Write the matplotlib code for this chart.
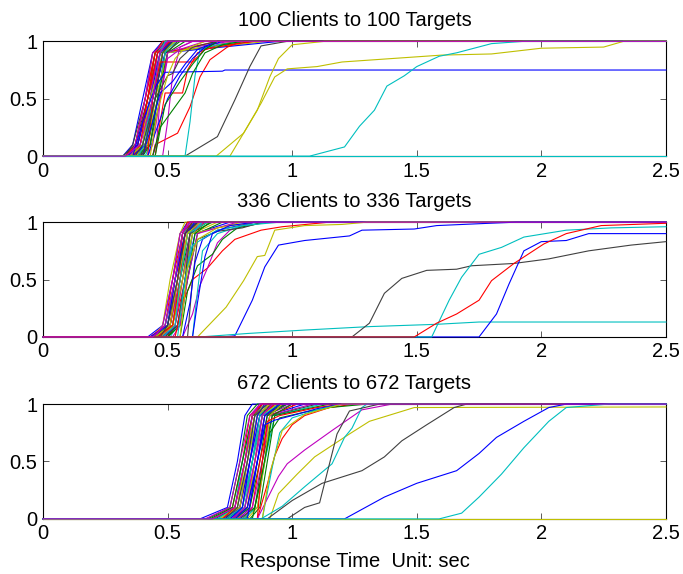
import matplotlib
matplotlib.use('Agg')
from matplotlib import pyplot as plt

plt.rcParams['font.family'] = ['Liberation Sans', 'DejaVu Sans']

# old MATLAB colour order
b = (0, 0, 1)
g = (0, 0.5, 0)
r = (1, 0, 0)
c = (0, 0.75, 0.75)
m = (0.75, 0, 0.75)
y = (0.75, 0.75, 0)
k = (0.25, 0.25, 0.25)
color_order = [b, g, r, c, m, y, k]

titles = ['100 Clients to 100 Targets', '336 Clients to 336 Targets', '672 Clients to 672 Targets']
x_label = 'Response Time  Unit: sec'
x_ticks = [0, 0.5, 1, 1.5, 2, 2.5]
y_ticks = [0, 0.5, 1]

# CDF levels used for the bundle curves
levels = [0, 0.1, 0.5, 0.9, 1.0]

# bundle curves: time (s) at which each client reaches levels 0 / .1 / .5 / .9 / 1
bundle_100 = [
    (0.32, 0.36, 0.40, 0.44, 0.48), (0.34, 0.38, 0.42, 0.46, 0.50), (0.33, 0.37, 0.41, 0.45, 0.52),
    (0.36, 0.39, 0.43, 0.46, 0.49), (0.35, 0.38, 0.42, 0.47, 0.75), (0.37, 0.40, 0.44, 0.47, 0.51),
    (0.33, 0.36, 0.41, 0.44, 0.50), (0.38, 0.41, 0.45, 0.48, 0.53), (0.36, 0.40, 0.43, 0.47, 0.85),
    (0.34, 0.37, 0.41, 0.45, 0.49), (0.39, 0.42, 0.45, 0.48, 0.52), (0.35, 0.39, 0.43, 0.46, 0.51),
    (0.37, 0.41, 0.44, 0.48, 0.90), (0.32, 0.37, 0.42, 0.46, 0.52), (0.38, 0.40, 0.44, 0.47, 0.50),
    (0.36, 0.38, 0.42, 0.45, 0.49), (0.40, 0.42, 0.46, 0.49, 0.70), (0.35, 0.40, 0.44, 0.48, 0.54),
    (0.37, 0.39, 0.43, 0.46, 0.50), (0.34, 0.39, 0.43, 0.47, 0.53), (0.39, 0.41, 0.45, 0.48, 0.51),
    (0.36, 0.41, 0.44, 0.49, 0.95), (0.38, 0.42, 0.46, 0.49, 0.55), (0.33, 0.38, 0.42, 0.45, 0.48),
    (0.41, 0.43, 0.46, 0.49, 0.52), (0.35, 0.37, 0.41, 0.44, 0.50), (0.37, 0.42, 0.45, 0.50, 0.80),
    (0.39, 0.43, 0.47, 0.50, 0.54), (0.34, 0.38, 0.43, 0.47, 0.52), (0.40, 0.43, 0.46, 0.50, 0.57),
    (0.36, 0.39, 0.42, 0.46, 0.51), (0.38, 0.41, 0.44, 0.47, 0.49), (0.42, 0.44, 0.47, 0.50, 0.60),
    (0.35, 0.40, 0.43, 0.48, 0.53), (0.37, 0.40, 0.45, 0.48, 0.52), (0.33, 0.39, 0.44, 0.47, 0.50),
]

# individual slower clients: (colour, [(time, cdf), ...])
others_100 = [
    (r, [(0.44, 0), (0.45, 0.1), (0.54, 0.2), (0.59, 0.43), (0.63, 0.69), (0.67, 0.84), (0.74, 0.95), (0.8, 1)]),
    (r, [(0.45, 0), (0.47, 0.3), (0.49, 0.55), (0.56, 0.55), (0.58, 0.75), (0.62, 0.9), (0.7, 0.97), (0.78, 1)]),
    (r, [(0.42, 0), (0.44, 0.5), (0.47, 0.82), (0.60, 0.82), (0.65, 0.93), (0.75, 0.97), (0.85, 1)]),
    (c, [(0.57, 0), (0.59, 0.3), (0.61, 0.7), (0.63, 0.93), (0.7, 0.97), (0.8, 1)]),
    (m, [(0.44, 0), (0.455, 0.1), (0.47, 0.5), (0.50, 0.85), (0.55, 0.93), (0.65, 1)]),
    (m, [(0.48, 0), (0.5, 0.3), (0.52, 0.7), (0.55, 0.95), (0.6, 1)]),
    (b, [(0.36, 0), (0.40, 0.3), (0.45, 0.6), (0.49, 0.73), (0.72, 0.74), (0.73, 0.75)]),
    (b, [(0.42, 0), (0.45, 0.2), (0.5, 0.5), (0.55, 0.7), (0.6, 0.85), (0.65, 0.95), (0.72, 1)]),
    (b, [(0.40, 0), (0.44, 0.3), (0.47, 0.55), (0.52, 0.65), (0.57, 0.8), (0.62, 0.93), (0.7, 1)]),
    (g, [(0.44, 0), (0.47, 0.25), (0.52, 0.4), (0.57, 0.55), (0.6, 0.72), (0.65, 0.9), (0.72, 0.97), (0.8, 1)]),
    (g, [(0.45, 0), (0.49, 0.45), (0.55, 0.65), (0.6, 0.8), (0.65, 0.93), (0.7, 1)]),
    (k, [(0.40, 0), (0.45, 0.5), (0.5, 0.7), (0.52, 0.72), (0.55, 0.85), (0.6, 0.95), (0.7, 1)]),
    (y, [(0.43, 0), (0.46, 0.4), (0.5, 0.7), (0.53, 0.85), (0.56, 0.92), (0.65, 1)]),
    (k, [(0.57, 0), (0.70, 0.17), (0.77, 0.49), (0.83, 0.78), (0.875, 0.96), (0.98, 1)]),
    (y, [(0.695, 0), (0.805, 0.2), (0.875, 0.46), (0.93, 0.69), (0.98, 0.76), (1.1, 0.78), (1.2, 0.82),
         (1.4, 0.85), (1.6, 0.88), (1.8, 0.89), (2.0, 0.94), (2.25, 0.95), (2.33, 1)]),
    (y, [(0.75, 0), (0.86, 0.4), (0.91, 0.69), (0.945, 0.85), (1.0, 0.97), (1.13, 1)]),
    (c, [(1.07, 0), (1.21, 0.08), (1.27, 0.26), (1.33, 0.4), (1.38, 0.61), (1.45, 0.7), (1.5, 0.78),
         (1.59, 0.87), (1.66, 0.9), (1.8, 0.98), (1.93, 1)]),
    (c, [(2.5, 0)]),
]

bundle_336 = [
    (0.42, 0.48, 0.52, 0.55, 0.58), (0.44, 0.49, 0.53, 0.56, 0.60), (0.43, 0.50, 0.54, 0.57, 0.62),
    (0.45, 0.50, 0.53, 0.56, 0.59), (0.46, 0.51, 0.55, 0.58, 0.65), (0.44, 0.48, 0.51, 0.55, 0.57),
    (0.47, 0.52, 0.55, 0.58, 0.61), (0.45, 0.49, 0.53, 0.57, 0.63), (0.48, 0.52, 0.56, 0.59, 0.66),
    (0.43, 0.49, 0.52, 0.56, 0.60), (0.46, 0.50, 0.54, 0.58, 0.64), (0.47, 0.51, 0.55, 0.57, 0.60),
    (0.49, 0.53, 0.56, 0.60, 0.70), (0.44, 0.50, 0.53, 0.56, 0.59), (0.48, 0.51, 0.54, 0.57, 0.62),
    (0.45, 0.52, 0.55, 0.59, 0.68), (0.50, 0.53, 0.57, 0.60, 0.65), (0.46, 0.49, 0.53, 0.56, 0.61),
    (0.47, 0.53, 0.56, 0.59, 0.63), (0.49, 0.52, 0.55, 0.58, 0.60), (0.44, 0.51, 0.54, 0.57, 0.62),
    (0.48, 0.54, 0.57, 0.61, 0.75), (0.50, 0.54, 0.58, 0.62, 0.72), (0.46, 0.51, 0.54, 0.56, 0.58),
    (0.51, 0.54, 0.57, 0.60, 0.64), (0.45, 0.48, 0.52, 0.55, 0.59), (0.47, 0.52, 0.56, 0.60, 0.80),
    (0.49, 0.54, 0.57, 0.59, 0.62), (0.43, 0.50, 0.53, 0.57, 0.61), (0.50, 0.55, 0.58, 0.61, 0.67),
    (0.46, 0.52, 0.55, 0.57, 0.60), (0.48, 0.53, 0.55, 0.58, 0.66), (0.52, 0.55, 0.58, 0.62, 0.78),
    (0.45, 0.51, 0.54, 0.58, 0.63), (0.47, 0.50, 0.54, 0.57, 0.60), (0.44, 0.49, 0.53, 0.56, 0.59),
]

others_336 = [
    (r, [(0.53, 0), (0.56, 0.3), (0.6, 0.5), (0.66, 0.6), (0.72, 0.75), (0.77, 0.85), (0.875, 0.93), (0.96, 0.96), (1.15, 1)]),
    (m, [(0.56, 0), (0.6, 0.2), (0.63, 0.45), (0.66, 0.6), (0.7, 0.82), (0.75, 0.93), (0.85, 1)]),
    (g, [(0.55, 0), (0.58, 0.4), (0.62, 0.62), (0.68, 0.72), (0.72, 0.85), (0.78, 0.95), (0.9, 1)]),
    (c, [(0.6, 0), (0.62, 0.4), (0.64, 0.75), (0.7, 0.9), (0.8, 0.97), (0.9, 1)]),
    (k, [(0.58, 0), (0.6, 0.5), (0.62, 0.85), (0.7, 0.92), (0.8, 0.95), (0.88, 1)]),
    (b, [(0.56, 0), (0.59, 0.3), (0.61, 0.65), (0.64, 0.85), (0.7, 0.93), (0.85, 1)]),
    (c, [(0.54, 0), (0.57, 0.5), (0.6, 0.8), (0.66, 0.88), (0.7, 0.93), (0.8, 0.97), (0.95, 1)]),
    (y, [(0.55, 0), (0.58, 0.6), (0.62, 0.85), (0.7, 0.95), (0.85, 1)]),
    (b, [(0.6, 0), (0.62, 0.3), (0.65, 0.7), (0.68, 0.9), (0.75, 0.97), (0.85, 1)]),
    (y, [(0.62, 0), (0.735, 0.26), (0.805, 0.49), (0.86, 0.70), (0.89, 0.71), (0.93, 0.93), (1.05, 0.97), (1.2, 0.98), (1.3, 1)]),
    (b, [(0.72, 0), (0.77, 0.01), (0.84, 0.32), (0.89, 0.61), (0.945, 0.8), (1.05, 0.84), (1.23, 0.88), (1.28, 0.93),
         (1.49, 0.94), (1.58, 0.97), (1.79, 0.99), (1.9, 1)]),
    (c, [(0.63, 0), (0.82, 0.03), (1.05, 0.06), (1.31, 0.09), (1.58, 0.11), (1.75, 0.13)]),
    (k, [(1.24, 0), (1.31, 0.12), (1.37, 0.38), (1.44, 0.51), (1.54, 0.58), (1.66, 0.59), (1.72, 0.62), (1.89, 0.64),
         (2.03, 0.68), (2.19, 0.75), (2.36, 0.8), (2.5, 0.83)]),
    (b, [(1.75, 0), (1.82, 0.2), (1.87, 0.46), (1.93, 0.75), (2.0, 0.83), (2.1, 0.84), (2.19, 0.9)]),
    (c, [(1.56, 0), (1.63, 0.32), (1.68, 0.52), (1.75, 0.72), (1.84, 0.78), (1.93, 0.87), (2.1, 0.93), (2.28, 0.95), (2.5, 0.96)]),
    (r, [(1.49, 0), (1.58, 0.12), (1.66, 0.2), (1.75, 0.32), (1.8, 0.49), (1.89, 0.64), (2.01, 0.81), (2.1, 0.9),
         (2.24, 0.97), (2.5, 0.99)]),
]

bundle_672 = [
    (0.63, 0.74, 0.78, 0.81, 0.84), (0.66, 0.75, 0.79, 0.82, 0.86), (0.68, 0.76, 0.80, 0.83, 0.88),
    (0.70, 0.77, 0.80, 0.84, 0.90), (0.65, 0.75, 0.79, 0.83, 0.87), (0.72, 0.78, 0.81, 0.84, 0.89),
    (0.69, 0.77, 0.81, 0.85, 0.92), (0.73, 0.79, 0.82, 0.85, 0.88), (0.67, 0.76, 0.80, 0.84, 0.95),
    (0.74, 0.79, 0.83, 0.86, 0.91), (0.70, 0.78, 0.82, 0.86, 0.94), (0.75, 0.80, 0.83, 0.87, 0.93),
    (0.71, 0.78, 0.81, 0.85, 0.89), (0.76, 0.81, 0.84, 0.87, 0.92), (0.72, 0.79, 0.83, 0.87, 0.98),
    (0.74, 0.80, 0.84, 0.88, 0.96), (0.77, 0.82, 0.85, 0.88, 0.93), (0.73, 0.80, 0.84, 0.87, 0.90),
    (0.75, 0.81, 0.85, 0.89, 1.00), (0.78, 0.82, 0.85, 0.88, 0.94), (0.76, 0.82, 0.86, 0.89, 0.97),
    (0.79, 0.83, 0.86, 0.90, 1.05), (0.77, 0.83, 0.87, 0.90, 0.98), (0.80, 0.84, 0.87, 0.91, 1.02),
    (0.74, 0.81, 0.84, 0.88, 0.95), (0.78, 0.84, 0.88, 0.91, 1.08), (0.71, 0.79, 0.82, 0.86, 0.91),
    (0.79, 0.85, 0.88, 0.92, 1.10), (0.75, 0.80, 0.83, 0.86, 0.89), (0.81, 0.85, 0.89, 0.92, 1.00),
    (0.72, 0.77, 0.81, 0.84, 0.88), (0.80, 0.86, 0.89, 0.93, 1.12), (0.76, 0.81, 0.85, 0.88, 0.92),
    (0.82, 0.86, 0.89, 0.91, 0.96), (0.73, 0.78, 0.82, 0.85, 0.90), (0.77, 0.82, 0.86, 0.89, 0.95),
    (0.83, 0.87, 0.90, 0.93, 1.15), (0.68, 0.77, 0.81, 0.84, 0.87),
]

others_672 = [
    (r, [(0.86, 0), (0.9, 0.3), (0.93, 0.55), (0.96, 0.7), (1.0, 0.82), (1.05, 0.9), (1.15, 0.97), (1.25, 1)]),
    (r, [(0.86, 0), (0.88, 0.5), (0.9, 0.85), (0.95, 0.9), (1.1, 0.97), (1.2, 1)]),
    (g, [(0.84, 0), (0.88, 0.4), (0.91, 0.75), (0.95, 0.88), (1.05, 0.93), (1.15, 0.97), (1.3, 1)]),
    (b, [(0.82, 0), (0.86, 0.5), (0.89, 0.82), (0.93, 0.86), (1.0, 0.9), (1.1, 0.96), (1.2, 1)]),
    (c, [(0.88, 0), (0.92, 0.45), (0.95, 0.75), (1.0, 0.88), (1.1, 0.95), (1.2, 1)]),
    (m, [(0.86, 0), (0.945, 0.37), (0.98, 0.48), (1.05, 0.6), (1.16, 0.77), (1.28, 0.95), (1.4, 1)]),
    (y, [(0.88, 0), (0.91, 0.4), (0.96, 0.77), (1.05, 0.91), (1.2, 1)]),
    (y, [(0.91, 0), (0.945, 0.22), (1.02, 0.39), (1.09, 0.54), (1.23, 0.74), (1.31, 0.85), (1.4, 0.91), (1.49, 0.97), (2.5, 0.975)]),
    (c, [(0.875, 0), (0.96, 0.11), (1.05, 0.28), (1.16, 0.48), (1.21, 0.71), (1.24, 0.79), (1.28, 0.97), (1.3, 1)]),
    (k, [(0.98, 0), (1.05, 0.1), (1.11, 0.14), (1.18, 0.74), (1.23, 0.94), (1.35, 1)]),
    (k, [(0.90, 0), (1.0, 0.16), (1.12, 0.31), (1.28, 0.42), (1.37, 0.54), (1.44, 0.68), (1.54, 0.82), (1.65, 0.97), (1.7, 1)]),
    (b, [(1.21, 0), (1.37, 0.19), (1.5, 0.31), (1.66, 0.42), (1.75, 0.57), (1.82, 0.71), (1.93, 0.85), (2.03, 0.97), (2.1, 1)]),
    (y, [(2.5, 0)]),
    (c, [(1.59, 0), (1.68, 0.05), (1.75, 0.19), (1.84, 0.39), (1.93, 0.62), (2.03, 0.85), (2.1, 0.97), (2.27, 1)]),
]

panels = [(bundle_100, others_100), (bundle_336, others_336), (bundle_672, others_672)]


def draw_cdf(ax, color, pts):
    xs = [0] + [p[0] for p in pts] + [2.5]
    ys = [0] + [p[1] for p in pts] + [pts[-1][1]]
    ax.plot(xs, ys, color=color, lw=0.8, clip_on=False, zorder=3)


fs = 14.5
fig = plt.figure(figsize=(6.83, 5.74), dpi=100)
bottoms = [0.728, 0.413, 0.096]
for i, (bundle, others) in enumerate(panels):
    ax = fig.add_axes([0.0630, bottoms[i], 0.912, 0.2])
    for j, q in enumerate(bundle[:-1]):
        draw_cdf(ax, color_order[j % 7], list(zip(q, levels)))
    for col, pts in others:
        draw_cdf(ax, col, pts)
    # last client drawn on top
    draw_cdf(ax, m, list(zip(bundle[-1], levels)))

    ax.set_xlim(0, 2.5)
    ax.set_ylim(0, 1)
    ax.set_xticks(x_ticks)
    ax.set_xticklabels(['0', '0.5', '1', '1.5', '2', '2.5'])
    ax.set_yticks(y_ticks)
    ax.set_yticklabels(['0', '0.5', '1'])
    ax.tick_params(direction='in', top=True, right=True, length=4, width=0.6,
                   labelsize=fs, pad=4, color=k)
    for s in ax.spines.values():
        s.set_linewidth(0.8)
    ax.set_title(titles[i], fontsize=fs, pad=11)
    if i == 2:
        ax.set_xlabel(x_label, fontsize=fs, labelpad=6)

fig.savefig('out.png', dpi=100)
